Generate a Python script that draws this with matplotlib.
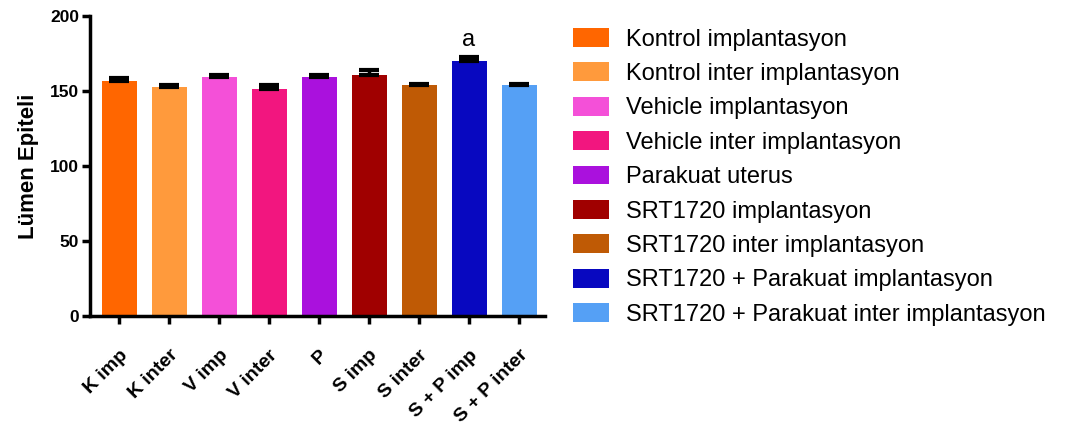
import numpy as np
import matplotlib.pyplot as plt
from matplotlib.patches import Patch

plt.rcParams['font.family'] = ['Liberation Sans', 'DejaVu Sans']

# data
short_labels = ['K imp', 'K inter', 'V imp', 'V inter', 'P', 'S imp', 'S inter', 'S + P imp', 'S + P inter']
long_labels = ['Kontrol implantasyon', 'Kontrol inter implantasyon', 'Vehicle implantasyon',
               'Vehicle inter implantasyon', 'Parakuat uterus', 'SRT1720 implantasyon',
               'SRT1720 inter implantasyon', 'SRT1720 + Parakuat implantasyon',
               'SRT1720 + Parakuat inter implantasyon']
means = [156.7, 152.4, 159.3, 151.3, 159.3, 160.5, 154.0, 170.2, 154.0]
sems = [2.3, 1.6, 1.3, 2.4, 1.1, 3.8, 1.0, 2.2, 1.0]
colors = ['#FF6600', '#FF9A3C', '#F450D8', '#F2167F', '#AA11DD', '#A00000', '#BF5A05', '#0808C0', '#55A0F5']

fig = plt.figure(figsize=(10.68, 4.45), dpi=100)
ax = fig.add_axes([0.0843, 0.29, 0.426, 0.674])

x = np.arange(len(means))
ax.bar(x, means, width=0.7, color=colors, zorder=2)
ax.errorbar(x, means, yerr=[np.zeros(len(sems)), sems], fmt='none', ecolor='black',
            elinewidth=2.5, capsize=7, capthick=3, zorder=3)

# significance mark
ax.text(x[7], means[7] + sems[7] + 4, 'a', ha='center', va='bottom', fontsize=17)

ax.set_xlim(-0.58, 8.52)
ax.set_ylim(0, 200)
ax.set_yticks([0, 50, 100, 150, 200])
ax.set_xticks(x)
ax.set_xticklabels(short_labels, rotation=45, ha='right', rotation_mode='anchor', fontweight='bold', fontsize=14)
for t in ax.get_yticklabels():
    t.set_fontweight('bold')
    t.set_fontsize(12.5)
ax.set_ylabel('Lümen Epiteli', fontweight='bold', fontsize=16, labelpad=8)

ax.spines['top'].set_visible(False)
ax.spines['right'].set_visible(False)
ax.spines['left'].set_linewidth(2.5)
ax.spines['bottom'].set_linewidth(2.5)
ax.tick_params(width=2.5, length=6, direction='out')
ax.tick_params(axis='x', pad=16)
ax.tick_params(axis='y', pad=2)

handles = [Patch(facecolor=c, edgecolor='none') for c in colors]
fig.legend(handles, long_labels, loc='upper left', bbox_to_anchor=(0.5365, 0.937), frameon=False,
           fontsize=17, handlelength=1.53, handleheight=0.85, handletextpad=0.72, labelspacing=0.5,
           borderpad=0, borderaxespad=0)

fig.savefig('out.png', dpi=100)
